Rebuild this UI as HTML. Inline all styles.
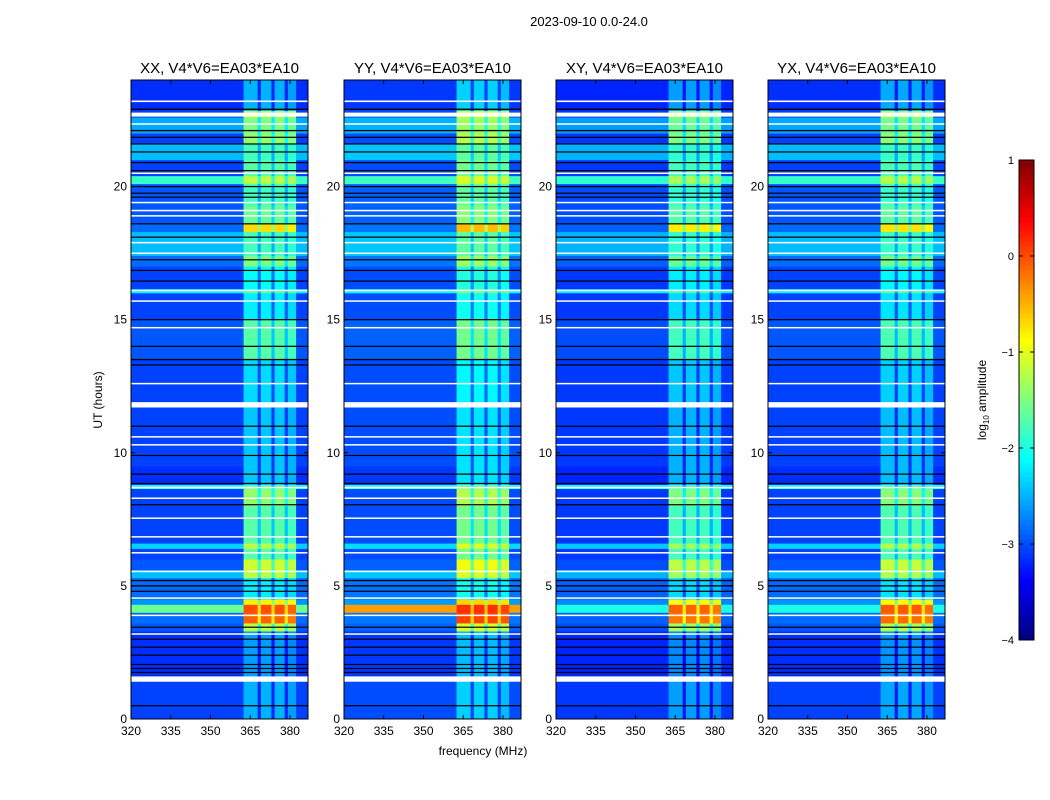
<!DOCTYPE html>
<html><head><meta charset="utf-8"><style>
body{margin:0;background:#fff;font-family:"Liberation Sans",sans-serif}
svg{display:block}
text{font-family:"Liberation Sans",sans-serif}
</style></head><body>
<svg id="fig" width="1050" height="800" viewBox="0 0 1050 800">
<rect width="1050" height="800" fill="#fff"/>
<text x="589" y="26" font-size="13" text-anchor="middle">2023-09-10 0.0-24.0</text>
<text x="483" y="755" font-size="12" text-anchor="middle">frequency (MHz)</text>
<text x="0" y="0" font-size="12" text-anchor="middle" transform="translate(102,400) rotate(-90)">UT (hours)</text>
<g id="panels"></g>
<g id="cbar"></g>
</svg>
<script>
const panelTitles = ["XX, V4*V6=EA03*EA10","YY, V4*V6=EA03*EA10","XY, V4*V6=EA03*EA10","YX, V4*V6=EA03*EA10"];
const xTicks = [320,335,350,365,380];
const yTicks = [0,5,10,15,20];
const cbTicks = [1,0,-1,-2,-3,-4];
const rowStart = [0,1.4,1.6,3.3,3.6,4.0,4.3,4.5,5.3,5.6,6.0,6.4,6.6,8.0,8.65,8.8,9.5,11.7,11.9,13.5,15.0,16.0,16.15,17.0,17.4,18.3,18.6,19.3,20.1,20.4,21.0,21.6,22.0,22.6,22.85];
const rowBg = [-3.2,-3.2,-3.3,-3.1,-3.0,-1.6,-2.8,-3.0,-2.6,-3.1,-3.2,-2.5,-3.2,-3.2,-2.2,-3.3,-3.2,-3.2,-3.2,-3.1,-3.2,-2.3,-3.2,-3.0,-2.6,-3.0,-3.1,-3.1,-2.0,-3.2,-2.6,-3.2,-2.7,-3.2,-3.3];
const rowBand = [-2.3,-2.3,-2.4,-1.0,0.1,0.2,-0.6,-2.0,-1.0,-0.9,-1.5,-1.0,-1.5,-1.2,-1.5,-2.2,-2.2,-2.2,-2.1,-1.5,-2.0,-1.5,-1.9,-1.3,-1.6,-0.5,-1.4,-1.6,-1.0,-1.5,-1.6,-1.2,-1.3,-1.0,-2.3];
const hotRowBg = [-1.6,-0.4,-2.0,-2.0];
const panelBgOffset = [0.15,0.2,0.1,0.15];
const panelBandOffset = [-0.3,-0.15,-0.4,-0.35];
const colStart = [320,362.5,367.8,369.0,373.0,374.2,378.0,379.2,382.3];
const colBoost = [0,0.1,-0.6,0.1,-0.6,0.1,-0.6,0,0];
const colIsBand = [0,1,1,1,1,1,1,1,0];
const whiteLines = [[23.2,0.06],[22.7,0.15],[22.35,0.05],[20.5,0.05],[19.4,0.05],[19.1,0.05],[18.9,0.05],[17.9,0.04],[17.5,0.04],[16.1,0.05],[15.7,0.05],[14.7,0.05],[12.6,0.05],[11.8,0.2],[10.6,0.05],[10.3,0.05],[8.7,0.04],[8.3,0.04],[7.55,0.04],[6.85,0.04],[6.25,0.04],[5.55,0.04],[4.55,0.04],[3.9,0.04],[3.2,0.04],[1.5,0.2]];
const blackLines = [[22.9,0.05],[22.1,0.05],[21.85,0.04],[21.6,0.04],[21.3,0.04],[20.9,0.04],[20.6,0.04],[20.0,0.04],[19.75,0.04],[19.6,0.04],[18.6,0.04],[18.1,0.04],[17.25,0.04],[16.85,0.04],[16.45,0.04],[15.0,0.04],[14.0,0.04],[13.5,0.05],[13.3,0.04],[11.0,0.04],[9.9,0.04],[9.2,0.04],[8.85,0.04],[8.05,0.04],[5.2,0.05],[5.0,0.05],[4.8,0.04],[3.45,0.04],[3.0,0.04],[2.7,0.04],[2.4,0.04],[2.05,0.04],[1.9,0.04],[1.75,0.04],[0.5,0.04]];

const NS="http://www.w3.org/2000/svg";
const panelLeft=[131,344,556,768], PW=177, PT=80, PH=639;
const fMin=320, fMax=386.8, tMin=0, tMax=24;
function jet(v){let x=(v+4)/5;x=Math.max(0,Math.min(1,x));
 const r=Math.max(0,Math.min(1,Math.min(4*x-1.5,-4*x+4.5)));
 const g=Math.max(0,Math.min(1,Math.min(4*x-0.5,-4*x+3.5)));
 const b=Math.max(0,Math.min(1,Math.min(4*x+0.5,-4*x+2.5)));
 return `rgb(${Math.round(r*255)},${Math.round(g*255)},${Math.round(b*255)})`;}
function el(t,a,p){const e=document.createElementNS(NS,t);for(const k in a)e.setAttribute(k,a[k]);p.appendChild(e);return e;}
const panels=document.getElementById('panels');
panelLeft.forEach((L,p)=>{
 const xs=f=>L+(f-fMin)/(fMax-fMin)*PW;
 const ys=t=>PT+PH-(t-tMin)/(tMax-tMin)*PH;
 const g=el('g',{},panels);
 
 
 for(let i=0;i<rowStart.length;i++){
  const t0=rowStart[i], t1=i+1<rowStart.length?rowStart[i+1]:tMax;
  const bg=(rowStart[i]===4.0?hotRowBg[p]:rowBg[i]+panelBgOffset[p]);
  for(let j=0;j<colStart.length;j++){
   const f0=colStart[j], f1=j+1<colStart.length?colStart[j+1]:fMax;
   const v=colIsBand[j]?rowBand[i]+panelBandOffset[p]+colBoost[j]:bg+colBoost[j];
   const r=el('rect',{x:xs(f0),y:ys(t1),width:xs(f1)-xs(f0)+0.3,height:ys(t0)-ys(t1)+0.3,fill:jet(v)},g);
   
   
  }
 }
 blackLines.forEach(([h,w])=>{const r=el('rect',{x:L,y:ys(h+w/2),width:PW,height:Math.max(1.2,ys(h-w/2)-ys(h+w/2)),fill:'#000'},g);
  
  });
 whiteLines.forEach(([h,w])=>{const r=el('rect',{x:L,y:ys(h+w/2),width:PW,height:Math.max(1.5,ys(h-w/2)-ys(h+w/2)),fill:'#fff'},g);
  
  });
 const fr=el('rect',{x:L,y:PT,width:PW,height:PH,fill:'none',stroke:'#000','stroke-width':1},g);
 
 
 const tt=el('text',{x:L+PW/2,y:PT-7,'font-size':15,'text-anchor':'middle'},g);tt.textContent=panelTitles[p];
 
 
 xTicks.forEach(f=>{const x=xs(f);
  el('line',{x1:x,x2:x,y1:PT+PH,y2:PT+PH-4,stroke:'#000'},g);el('line',{x1:x,x2:x,y1:PT,y2:PT+4,stroke:'#000'},g);
  const t=el('text',{x:x,y:PT+PH+16,'font-size':12,'text-anchor':'middle'},g);t.textContent=f;
  
  });
 yTicks.forEach(h=>{const y=ys(h);
  el('line',{x1:L,x2:L+4,y1:y,y2:y,stroke:'#000'},g);el('line',{x1:L+PW,x2:L+PW-4,y1:y,y2:y,stroke:'#000'},g);
  const t=el('text',{x:L-4,y:y+4,'font-size':12,'text-anchor':'end'},g);t.textContent=h;
  
  });
});
const cb=document.getElementById('cbar');
const CX=1019,CW=15,CT=160,CB=640;
const cy=v=>CB-(v+4)/5*(CB-CT);
for(let k=0;k<100;k++){const v0=-4+k*0.05;const r=el('rect',{x:CX,y:cy(v0+0.05),width:CW,height:(CB-CT)/100+0.4,fill:jet(v0+0.025)},cb);
 
 }
el('rect',{x:CX,y:CT,width:CW,height:CB-CT,fill:'none',stroke:'#000'},cb);
cbTicks.forEach(v=>{const y=cy(v);el('line',{x1:CX,x2:CX+4,y1:y,y2:y,stroke:'#000'},cb);el('line',{x1:CX+CW,x2:CX+CW-4,y1:y,y2:y,stroke:'#000'},cb);
 const t=el('text',{x:CX-5,y:y+4,'font-size':11,'text-anchor':'end'},cb);t.textContent=v<0?'\u2212'+(-v):v;
 
 });
const cl=el('text',{transform:'translate(986,400) rotate(-90)','font-size':12,'text-anchor':'middle'},cb);
cl.innerHTML='log<tspan font-size="8" dy="3">10</tspan><tspan dy="-3"> amplitude</tspan>';


</script>
</body></html>
